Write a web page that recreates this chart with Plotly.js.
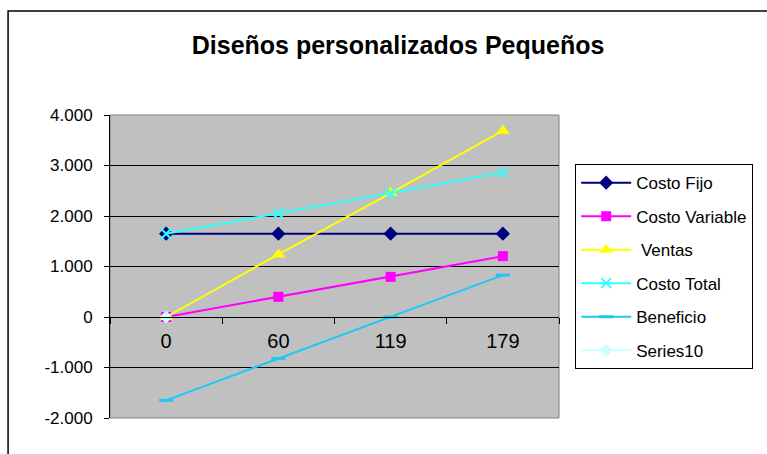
<!DOCTYPE html>
<html>
<head>
<meta charset="utf-8">
<script src="https://cdn.plot.ly/plotly-3.0.1.min.js"></script>
<style>html,body{margin:0;padding:0;background:#fff;}#chart{width:767px;height:454px;}</style>
</head>
<body>
<div id="chart"></div>
<script>
var categories = ["0", "60", "119", "179"];
var costoFijo = [1650, 1650, 1650, 1650];
var costoVariable = [0, 400, 795, 1205];
var ventas = [0, 1240, 2455, 3690];
var costoTotal = [1650, 2050, 2445, 2860];
var beneficio = [-1650, -820, 0, 830];
var series10 = [0];
var seriesNames = ["Costo Fijo", "Costo Variable", " Ventas", "Costo Total", "Beneficio", "Series10"];
var yTickVals = [-2000, -1000, 0, 1000, 2000, 3000, 4000];
var yTickLabels = ["-2.000", "-1.000", "0", "1.000", "2.000", "3.000", "4.000"];

var traces = [
  {x: categories, y: costoFijo, name: seriesNames[0], mode: "lines+markers",
   line: {color: "#000080", width: 2}, marker: {symbol: "diamond", size: 11, color: "#000080"}},
  {x: categories, y: costoVariable, name: seriesNames[1], mode: "lines+markers",
   line: {color: "#ff00ff", width: 2}, marker: {symbol: "square", size: 10, color: "#ff00ff"}},
  {x: categories, y: ventas, name: seriesNames[2], mode: "lines+markers",
   line: {color: "#ffff00", width: 2}, marker: {symbol: "triangle-up", size: 12, color: "#ffff00"}},
  {x: categories, y: costoTotal, name: seriesNames[3], mode: "lines+markers",
   line: {color: "#33ffff", width: 2}, marker: {symbol: "x-thin", size: 10, color: "#33ffff", line: {color: "#33ffff", width: 2}}},
  {x: categories, y: beneficio, name: seriesNames[4], mode: "lines+markers",
   line: {color: "#1ec8f5", width: 2}, marker: {symbol: "line-ew", size: 10, color: "#1ec8f5", line: {color: "#1ec8f5", width: 3}}},
  {x: categories.slice(0, series10.length), y: series10, name: seriesNames[5], mode: "lines+markers",
   line: {color: "#ccffff", width: 2}, marker: {symbol: "diamond", size: 10, color: "#ccffff"}}
];
traces.forEach(function(t, i){ t.legendgroup = "g" + i; t.type = "scatter"; });

var layout = {
  width: 767, height: 454,
  margin: {l: 110, r: 208, t: 115, b: 36},
  paper_bgcolor: "#ffffff",
  plot_bgcolor: "#c0c0c0",
  font: {family: "Liberation Sans, Arial, sans-serif", color: "#000"},
  title: {text: "<b>Diseños personalizados Pequeños</b>", font: {size: 25, color: "#000"},
          x: 0.519, xref: "container", y: 0.9, yref: "container", xanchor: "center", yanchor: "middle"},
  showlegend: true,
  legend: {x: 1.036, xanchor: "left", y: 0.838, yanchor: "top",
           bgcolor: "#ffffff", bordercolor: "#000", borderwidth: 1,
           font: {size: 17, color: "#000"}, tracegroupgap: 8.4, traceorder: "grouped", itemwidth: 50},
  xaxis: {type: "category", range: [-0.5, 3.5], anchor: "free", position: 1/3,
          showgrid: false, zeroline: false, showline: true, linecolor: "#000", linewidth: 1,
          ticks: "outside", tickson: "boundaries", ticklen: 6, tickcolor: "#000",
          ticklabelstandoff: 6, tickfont: {size: 20}, fixedrange: true},
  yaxis: {range: [-2000, 4000], tickvals: yTickVals, ticktext: yTickLabels,
          showgrid: true, gridcolor: "#000", gridwidth: 1, zeroline: false,
          showline: true, linecolor: "#000", linewidth: 1,
          ticks: "outside", ticklen: 5, tickcolor: "#000", ticklabelstandoff: 8,
          tickfont: {size: 17}, fixedrange: true},
  shapes: [
    {type: "rect", xref: "paper", yref: "paper", x0: 0, x1: 1, y0: 0, y1: 1,
     line: {color: "#808080", width: 1}, layer: "below"},
    {type: "path", xref: "paper", yref: "paper",
     path: "M -0.227 -0.2 L -0.227 1.343 L 1.53 1.343", line: {color: "#000", width: 1.5}}
  ]
};

Plotly.newPlot("chart", traces, layout, {displayModeBar: false, staticPlot: true});
</script>
</body>
</html>
